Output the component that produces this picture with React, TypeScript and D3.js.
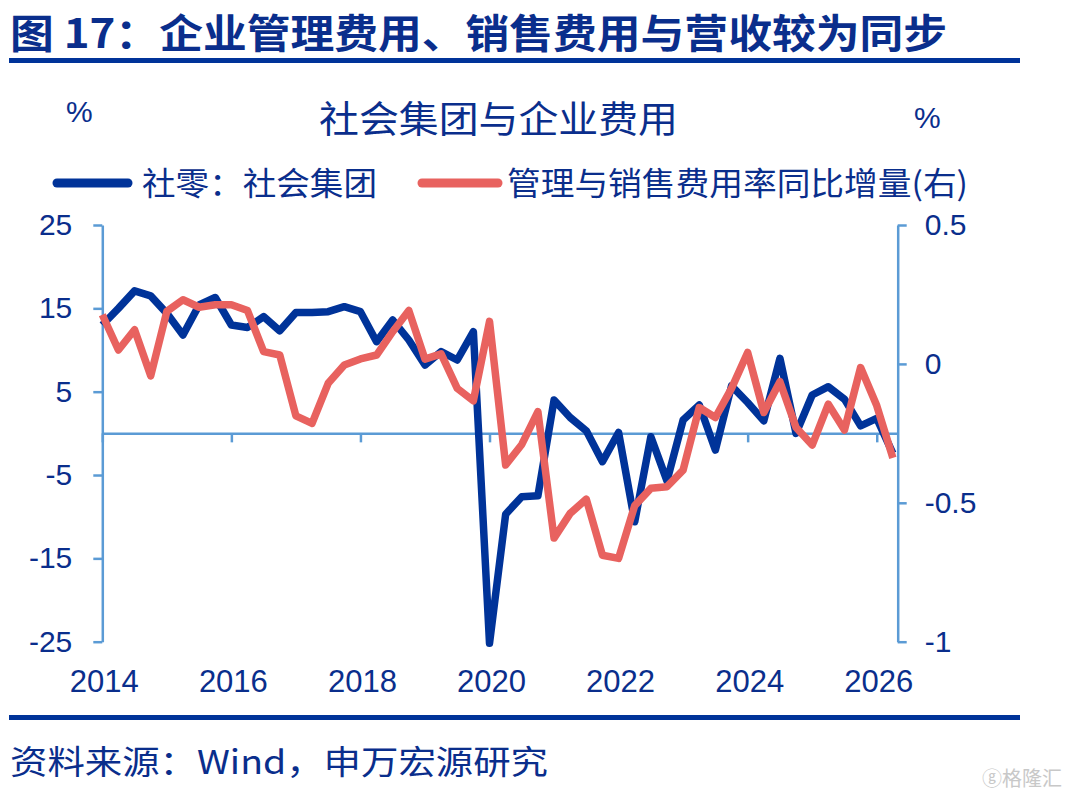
import { useEffect, useRef } from "react";
import * as d3 from "d3";

// quarterly points, 2014Q1 .. 2026Q2
const retailGroup = [
  13.0, 15.0, 17.1, 16.5, 14.4, 11.8, 15.4, 16.3,
  13.0, 12.7, 14.0, 12.3, 14.5, 14.5, 14.6, 15.2,
  14.6, 11.0, 13.6, 11.2, 8.2, 9.8, 8.8, 12.2,
  -25.2, -9.7, -7.6, -7.5, 4.0, 1.9, 0.3, -3.4,
  0.1, -10.6, -0.4, -5.7, 1.6, 3.4, -2.0, 5.7,
  3.7, 1.5, 9.0, 0.0, 4.6, 5.6, 4.1, 0.9,
  1.8, -2.4,
];

const expenseDelta = [
  0.177, 0.05, 0.123, -0.043, 0.189, 0.231, 0.204, 0.213,
  0.213, 0.192, 0.044, 0.032, -0.187, -0.214, -0.07, -0.004,
  0.018, 0.032, 0.116, 0.192, 0.017, 0.036, -0.088, -0.133,
  0.153, -0.364, -0.29, -0.172, -0.627, -0.538, -0.487, -0.689,
  -0.7, -0.51, -0.448, -0.442, -0.382, -0.157, -0.193, -0.088,
  0.041, -0.175, -0.064, -0.229, -0.292, -0.145, -0.238, -0.013,
  -0.15, -0.338,
];

const yearLabels = ["2014", "2016", "2018", "2020", "2022", "2024", "2026"];
const leftTicks = [25, 15, 5, -5, -15, -25];
const rightTicks = [0.5, 0, -0.5, -1];

const navy = "#003399";
const textBlue = "#0a2e8c";
const coral = "#e8625f";
const axisBlue = "#5b9bd5";
const cjk = "'Noto Sans CJK SC', 'Liberation Sans', sans-serif";
const latin = "'Liberation Sans', Arial, sans-serif";

export default function App() {
  const svgRef = useRef<SVGSVGElement | null>(null);

  useEffect(() => {
    const svg = d3.select(svgRef.current);
    svg.selectAll("*").remove();

    const left = 102.3;
    const right = 897.7;
    const top = 225;
    const bottom = 641.7;

    const x = d3.scaleLinear().domain([0, 49.3]).range([left, right]);
    const yL = d3.scaleLinear().domain([-25, 25]).range([bottom, top]);
    const yR = d3.scaleLinear().domain([-1, 0.5]).range([bottom, top]);

    svg.append("rect").attr("width", 1068).attr("height", 794).attr("fill", "#fff");

    // header
    svg.append("text")
      .attr("x", 10).attr("y", 48)
      .attr("textLength", 937).attr("lengthAdjust", "spacingAndGlyphs")
      .style("font-family", cjk).style("font-weight", 700).style("font-size", "40px")
      .style("fill", textBlue)
      .text("图 17：企业管理费用、销售费用与营收较为同步");
    svg.append("rect").attr("x", 9).attr("y", 58).attr("width", 1011).attr("height", 5).attr("fill", navy);

    svg.append("text")
      .attr("x", 319).attr("y", 133)
      .attr("textLength", 359).attr("lengthAdjust", "spacingAndGlyphs")
      .style("font-family", cjk).style("font-size", "37px").style("fill", textBlue)
      .text("社会集团与企业费用");
    svg.append("text").attr("x", 66).attr("y", 122)
      .style("font-family", latin).style("font-size", "30px").style("fill", textBlue).text("%");
    svg.append("text").attr("x", 914).attr("y", 128)
      .style("font-family", latin).style("font-size", "30px").style("fill", textBlue).text("%");

    // legend
    const legend = svg.append("g");
    legend.append("line").attr("x1", 57).attr("x2", 128).attr("y1", 183).attr("y2", 183)
      .attr("stroke", navy).attr("stroke-width", 9).attr("stroke-linecap", "round");
    legend.append("text").attr("x", 142).attr("y", 195)
      .attr("textLength", 235).attr("lengthAdjust", "spacingAndGlyphs")
      .style("font-family", cjk).style("font-size", "32px").style("fill", textBlue)
      .text("社零：社会集团");
    legend.append("line").attr("x1", 422).attr("x2", 498).attr("y1", 183).attr("y2", 183)
      .attr("stroke", coral).attr("stroke-width", 9).attr("stroke-linecap", "round");
    legend.append("text").attr("x", 507).attr("y", 195)
      .attr("textLength", 461).attr("lengthAdjust", "spacingAndGlyphs")
      .style("font-family", cjk).style("font-size", "32px").style("fill", textBlue)
      .text("管理与销售费用率同比增量(右)");

    // axes
    const styleAxis = (g: d3.Selection<SVGGElement, unknown, null, undefined>) => {
      g.select(".domain").attr("stroke", axisBlue).attr("stroke-width", 2.5);
      g.selectAll(".tick line").attr("stroke", axisBlue).attr("stroke-width", 2.5);
      g.selectAll(".tick text")
        .style("font-family", latin).style("font-size", "30px").style("fill", textBlue);
    };

    const gl = svg.append("g").attr("transform", `translate(${left},0)`)
      .call(d3.axisLeft(yL).tickValues(leftTicks).tickSize(9).tickSizeOuter(0).tickPadding(21)
        .tickFormat((d) => String(d)));
    gl.call(styleAxis as any);

    const gr = svg.append("g").attr("transform", `translate(${right},0)`)
      .call(d3.axisRight(yR).tickValues(rightTicks).tickSize(9).tickSizeOuter(0).tickPadding(18)
        .tickFormat((d) => String(d)));
    gr.call(styleAxis as any);

    const gx = svg.append("g").attr("transform", `translate(0,${yL(0)})`)
      .call(d3.axisBottom(x).tickValues(d3.range(0, 49, 8)).tickSize(9).tickSizeOuter(0)
        .tickFormat(() => ""));
    gx.call(styleAxis as any);

    svg.append("g").selectAll("text")
      .data(yearLabels)
      .enter()
      .append("text")
      .attr("x", (_, i) => x(i * 8) + 2)
      .attr("y", 692)
      .attr("text-anchor", "middle")
      .style("font-family", latin).style("font-size", "31px").style("fill", textBlue)
      .text((d) => d);

    // series
    const lineL = d3.line<number>().x((_, i) => x(i)).y((d) => yL(d));
    const lineR = d3.line<number>().x((_, i) => x(i)).y((d) => yR(d));

    svg.append("path").datum(retailGroup)
      .attr("fill", "none").attr("stroke", navy).attr("stroke-width", 7.5)
      .attr("stroke-linejoin", "round").attr("d", lineL);

    svg.append("path").datum(expenseDelta)
      .attr("fill", "none").attr("stroke", coral).attr("stroke-width", 7.5)
      .attr("stroke-linejoin", "round").attr("d", lineR);

    // footer
    svg.append("rect").attr("x", 9).attr("y", 715).attr("width", 1011).attr("height", 5).attr("fill", navy);
    svg.append("text").attr("x", 10).attr("y", 774)
      .attr("textLength", 538).attr("lengthAdjust", "spacingAndGlyphs")
      .style("font-family", cjk).style("font-size", "33px").style("fill", textBlue)
      .text("资料来源：Wind，申万宏源研究");
    svg.append("text").attr("x", 1062).attr("y", 786).attr("text-anchor", "end")
      .style("font-family", cjk).style("font-size", "20px").style("fill", "#c8c8c8")
      .text("ⓖ格隆汇");
  }, []);

  return (
    <svg
      ref={svgRef}
      width={1068}
      height={794}
      style={{ position: "absolute", left: 0, top: 0 }}
    />
  );
}
